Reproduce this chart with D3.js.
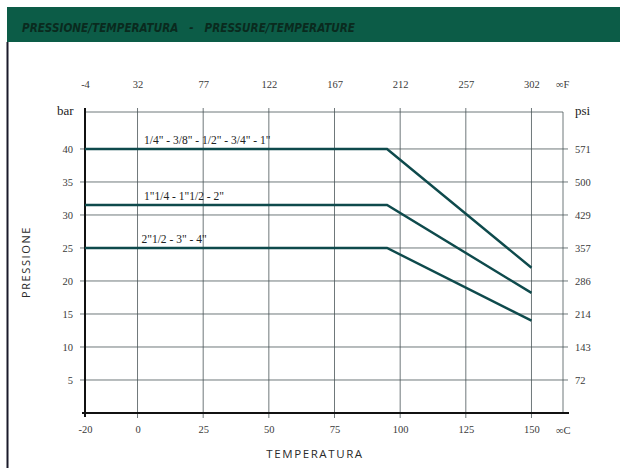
<!DOCTYPE html>
<html>
<head>
<meta charset="utf-8">
<script src="https://cdn.jsdelivr.net/npm/d3@7"></script>
<style>
  body { margin: 0; background: #fff; }
  svg { display: block; }
  .domain { display: none; }
</style>
</head>
<body>
<div id="chart"></div>
<script>
// chart data
const celsiusTicks = [-20, 0, 25, 50, 75, 100, 125, 150];
const fahrenheitTicks = [-4, 32, 77, 122, 167, 212, 257, 302];
const barTicks = [5, 10, 15, 20, 25, 30, 35, 40];
const psiTicks = [72, 143, 214, 286, 357, 429, 500, 571];

const seriesNames = ['1/4" - 3/8" - 1/2" - 3/4" - 1"', '1"1/4 - 1"1/2 - 2"', '2"1/2 - 3" - 4"'];
const seriesTemps = [-20, 95, 150];
const series1 = [40, 40, 22];
const series2 = [31.5, 31.5, 18.2];
const series3 = [25, 25, 14];

const width = 620, height = 468;
const serif = '"Liberation Serif", serif';
const sans = '"Open Sans", "DejaVu Sans", sans-serif';

const svg = d3.select('#chart').append('svg')
    .attr('width', width)
    .attr('height', height);

// header band
svg.append('rect')
    .attr('x', 7).attr('y', 7)
    .attr('width', width - 7).attr('height', 35)
    .attr('fill', '#0c5c47');

svg.append('text')
    .attr('x', 22).attr('y', 32)
    .attr('font-family', '"DejaVu Sans Condensed", "DejaVu Sans", sans-serif')
    .attr('font-weight', 'bold')
    .attr('font-style', 'italic')
    .attr('font-size', '12px')
    .attr('fill', '#0a2a1e')
    .attr('textLength', 333)
    .attr('lengthAdjust', 'spacingAndGlyphs')
    .attr('xml:space', 'preserve')
    .text('PRESSIONE/TEMPERATURA   -   PRESSURE/TEMPERATURE');

// page left border
svg.append('line')
    .attr('x1', 7.5).attr('x2', 7.5)
    .attr('y1', 42).attr('y2', height)
    .attr('stroke', '#1a1a2a').attr('stroke-width', 2);

// scales
const x = d3.scaleLinear().domain([-20, 162]).range([85, 563]);
const y = d3.scaleLinear().domain([0, 45.6]).range([413, 112]);
const xF = d3.scaleLinear().domain([-20 * 1.8 + 32, 162 * 1.8 + 32]).range([85, 563]);
const yPsi = d3.scaleLinear().domain([0, 45.6 * 14.28]).range([413, 112]);

const [x0, x1] = x.range();
const [y0, y1] = y.range();

// grid
const grid = svg.append('g').attr('stroke', '#4a5658').attr('stroke-width', 0.8);
grid.selectAll('.vg')
    .data(celsiusTicks.slice(1))
    .join('line')
    .attr('x1', d => x(d)).attr('x2', d => x(d))
    .attr('y1', y1 - 4).attr('y2', y0 + 5);
grid.selectAll('.hg')
    .data(barTicks)
    .join('line')
    .attr('x1', x0 - 5).attr('x2', x1 + 5)
    .attr('y1', d => y(d)).attr('y2', d => y(d));
grid.append('line')
    .attr('x1', x0).attr('x2', x1)
    .attr('y1', y1).attr('y2', y1);
grid.append('line')
    .attr('x1', x1).attr('x2', x1)
    .attr('y1', y1).attr('y2', y0);

// main axes lines
svg.append('line')
    .attr('x1', x0).attr('x2', x0)
    .attr('y1', y1 - 4).attr('y2', y0 + 4)
    .attr('stroke', '#111').attr('stroke-width', 2);
svg.append('line')
    .attr('x1', x0 - 3).attr('x2', x1 + 6)
    .attr('y1', y0).attr('y2', y0)
    .attr('stroke', '#111').attr('stroke-width', 2);

// axis labels (plain hyphen for negatives, as in the print)
const plain = d => String(d);
function styleAxis(g) {
    g.attr('font-family', serif).attr('font-size', 10.5);
    g.selectAll('text').attr('fill', '#3a3a3a');
}
svg.append('g')
    .attr('transform', `translate(0,${y0})`)
    .call(d3.axisBottom(x).tickValues(celsiusTicks).tickFormat(plain).tickSize(0).tickPadding(13))
    .call(styleAxis);
svg.append('g')
    .attr('transform', `translate(0,${y1})`)
    .call(d3.axisTop(xF).tickValues(fahrenheitTicks).tickFormat(plain).tickSize(0).tickPadding(24))
    .call(styleAxis);
svg.append('g')
    .attr('transform', `translate(${x0},0)`)
    .call(d3.axisLeft(y).tickValues(barTicks).tickFormat(plain).tickSize(0).tickPadding(12))
    .call(styleAxis);
svg.append('g')
    .attr('transform', `translate(${x1},0)`)
    .call(d3.axisRight(yPsi).tickValues(psiTicks).tickFormat(plain).tickSize(0).tickPadding(12))
    .call(styleAxis);

// unit labels
svg.append('text').attr('x', 57).attr('y', 115)
    .attr('font-family', serif).attr('font-size', '13px').attr('fill', '#222')
    .text('bar');
svg.append('text').attr('x', 575).attr('y', 115)
    .attr('font-family', serif).attr('font-size', '13px').attr('fill', '#222')
    .text('psi');
svg.append('text').attr('x', 556).attr('y', 88)
    .attr('font-family', serif).attr('font-size', '10.5px').attr('fill', '#3a3a3a')
    .text('∞F');
svg.append('text').attr('x', 556).attr('y', 434)
    .attr('font-family', serif).attr('font-size', '10.5px').attr('fill', '#3a3a3a')
    .text('∞C');

// axis titles
svg.append('text')
    .attr('transform', 'translate(30,262) rotate(-90)')
    .attr('text-anchor', 'middle')
    .attr('font-family', sans).attr('font-size', '11px')
    .attr('letter-spacing', '1.6px').attr('fill', '#2a2a2a')
    .text('PRESSIONE');
svg.append('text')
    .attr('x', 315).attr('y', 458)
    .attr('text-anchor', 'middle')
    .attr('font-family', sans).attr('font-size', '11.5px')
    .attr('letter-spacing', '1.6px').attr('fill', '#2a2a2a')
    .text('TEMPERATURA');

// series lines
const allSeries = [series1, series2, series3];
const line = d3.line()
    .x((d, i) => x(seriesTemps[i]))
    .y(d => y(d));

svg.selectAll('.curve')
    .data(allSeries)
    .join('path')
    .attr('class', 'curve')
    .attr('d', d => line(d))
    .attr('fill', 'none')
    .attr('stroke', '#0e4a4c')
    .attr('stroke-width', 2.4);

// series labels
svg.selectAll('.curve-label')
    .data(allSeries)
    .join('text')
    .attr('class', 'curve-label')
    .attr('x', (d, i) => x(i === 2 ? 1.5 : 2.5))
    .attr('y', d => y(d[0]) - 5)
    .attr('font-family', serif)
    .attr('font-size', '11.5px')
    .attr('fill', '#222')
    .text((d, i) => seriesNames[i]);
</script>
</body>
</html>
